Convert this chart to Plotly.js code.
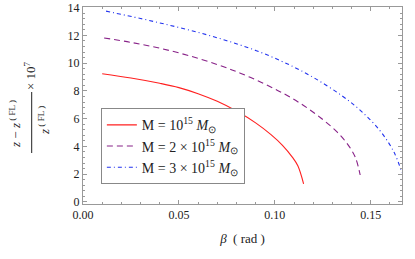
<!DOCTYPE html>
<html>
<head>
<meta charset="utf-8">
<script src="https://cdn.plot.ly/plotly-3.0.1.min.js"></script>
<style>
html,body{margin:0;padding:0;background:#fff;}
#chart{width:415px;height:259px;}
</style>
</head>
<body>
<div id="chart"></div>
<script>
// Series 1: M = 10^15 Msun
const betaRed = [0.010, 0.025, 0.040, 0.050, 0.060, 0.070, 0.080, 0.090, 0.098, 0.104, 0.109, 0.112, 0.115];
const yRed    = [9.24, 8.93, 8.55, 8.24, 7.80, 7.25, 6.55, 5.70, 4.85, 4.08, 3.25, 2.60, 1.30];
// Series 2: M = 2x10^15 Msun
const betaPurple = [0.011, 0.025, 0.040, 0.055, 0.070, 0.082, 0.094, 0.105, 0.115, 0.124, 0.132, 0.138, 0.142, 0.1445];
const yPurple    = [11.82, 11.50, 11.08, 10.55, 9.90, 9.28, 8.55, 7.78, 6.95, 6.05, 5.10, 4.15, 3.20, 1.94];
// Series 3: M = 3x10^15 Msun
const betaBlue = [0.012, 0.030, 0.045, 0.060, 0.075, 0.090, 0.105, 0.120, 0.135, 0.145, 0.155, 0.162, 0.1663];
const yBlue    = [13.75, 13.22, 12.74, 12.22, 11.62, 10.92, 10.05, 8.98, 7.65, 6.55, 5.10, 3.62, 2.10];

const seriesNames = [
  'M = 10<sup>15</sup> <i>M</i><sub>⊙</sub>',
  'M = 2 × 10<sup>15</sup> <i>M</i><sub>⊙</sub>',
  'M = 3 × 10<sup>15</sup> <i>M</i><sub>⊙</sub>'
];
const xTickVals = [0, 0.05, 0.10, 0.15];
const xTickText = ['0.00', '0.05', '0.10', '0.15'];
const yTickVals = [0, 2, 4, 6, 8, 10, 12, 14];

const font = "Liberation Serif, Times New Roman, serif";
const frame = '#999999';

const traces = [
  {x: betaRed, y: yRed, name: seriesNames[0], mode: 'lines', line: {color: '#ff2020', width: 1.1, shape: 'spline', smoothing: 1}},
  {x: betaPurple, y: yPurple, name: seriesNames[1], mode: 'lines', line: {color: '#882288', width: 1.1, dash: '6px,4px', shape: 'spline', smoothing: 1}},
  {x: betaBlue, y: yBlue, name: seriesNames[2], mode: 'lines', line: {color: '#2233ee', width: 1.1, dash: '4px,3px,1px,3px', shape: 'spline', smoothing: 1}}
];

const axisCommon = {
  showgrid: false, zeroline: false, showline: true, linecolor: frame, linewidth: 1,
  mirror: 'ticks', ticks: 'inside', ticklen: 4, tickcolor: frame, tickwidth: 1,
  tickfont: {family: font, size: 12, color: '#222'}
};

const layout = {
  width: 415, height: 259,
  font: {family: font, size: 12, color: '#222'},
  margin: {l: 83, r: 13, t: 7, b: 55},
  paper_bgcolor: '#fff', plot_bgcolor: '#fff',
  showlegend: true,
  legend: {
    x: 0.056, y: 0.486, xanchor: 'left', yanchor: 'top',
    bgcolor: '#fff', bordercolor: '#888', borderwidth: 1,
    font: {family: font, size: 14, color: '#222'},
    itemwidth: 30, tracegroupgap: 0
  },
  xaxis: Object.assign({}, axisCommon, {
    range: [0, 0.1663], tickvals: xTickVals, ticktext: xTickText,
    minor: {dtick: 0.01, ticks: 'inside', ticklen: 2, tickcolor: frame, showgrid: false},
    title: {text: '<i>β</i>  ( rad )', font: {family: font, size: 13, color: '#222'}, standoff: 12}
  }),
  yaxis: Object.assign({}, axisCommon, {
    range: [-0.15, 14.05], tickvals: yTickVals,
    minor: {dtick: 0.4, ticks: 'inside', ticklen: 2, tickcolor: frame, showgrid: false}
  }),
  annotations: [
    {xref: 'paper', yref: 'paper', x: (15 - 83) / 319, y: (204 - 124) / 197, xanchor: 'center', yanchor: 'middle',
     textangle: -90, showarrow: false, text: '<i>z</i> − <i>z</i><sup> ( FL )</sup>',
     font: {family: font, size: 13, color: '#222'}},
    {xref: 'paper', yref: 'paper', x: (44 - 83) / 319, y: (204 - 121) / 197, xanchor: 'center', yanchor: 'middle',
     textangle: -90, showarrow: false, text: '<i>z</i><sup> ( FL )</sup>',
     font: {family: font, size: 13, color: '#222'}},
    {xref: 'paper', yref: 'paper', x: (30 - 83) / 319, y: (204 - 76) / 197, xanchor: 'center', yanchor: 'middle',
     textangle: -90, showarrow: false, text: '× 10<sup>7</sup>',
     font: {family: font, size: 13, color: '#222'}}
  ],
  shapes: [
    {type: 'line', xref: 'paper', yref: 'paper', x0: (31.7 - 83) / 319, x1: (31.7 - 83) / 319,
     y0: (204 - 153) / 197, y1: (204 - 92) / 197, line: {color: '#222', width: 1}}
  ]
};

Plotly.newPlot('chart', traces, layout, {staticPlot: true, displayModeBar: false});
</script>
</body>
</html>
